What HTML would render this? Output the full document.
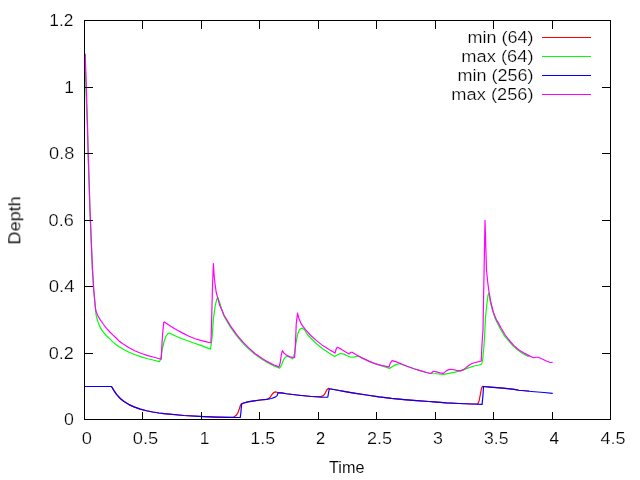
<!DOCTYPE html>
<html><head><meta charset="utf-8"><title>plot</title>
<style>
html,body{margin:0;padding:0;background:#fff;}
body{width:640px;height:480px;overflow:hidden;}
svg{display:block;}
text{font-family:"Liberation Sans",sans-serif;font-size:16.3px;fill:#000;}
.c{fill:none;stroke-width:1.2;stroke-linejoin:round;stroke-linecap:butt;}
</style></head><body>
<svg width="640" height="480" viewBox="0 0 640 480">
<rect x="0" y="0" width="640" height="480" fill="#fff"/>
<polyline class="c" stroke="#ff0000" points="84.50,386.50 111.50,386.50 114.00,390.60 116.50,394.40 120.25,398.50 124.00,401.50 129.00,404.60 134.00,406.90 140.25,409.10 146.50,410.75 152.75,412.00 159.00,413.00 164.00,413.60 184.00,415.50 204.00,416.60 216.50,417.10 229.00,417.40 233.40,417.25 235.90,415.60 237.75,413.10 239.40,408.75 240.50,405.00 241.50,403.50 242.10,403.50 247.75,401.90 254.00,400.90 260.25,400.00 266.50,399.40 267.75,399.00 270.25,397.25 272.10,394.40 273.75,392.50 275.25,391.90 277.10,392.25 279.00,392.90 281.50,392.90 286.50,393.75 299.00,395.25 311.50,396.50 320.90,396.60 323.40,395.60 325.25,393.10 326.75,390.00 328.40,388.40 329.60,388.75 336.50,390.00 345.25,391.60 354.00,393.10 366.50,395.00 379.00,396.90 391.50,398.40 404.00,399.60 416.50,400.60 429.00,401.50 434.00,401.90 446.50,402.90 459.00,403.50 471.50,404.00 477.75,403.75 479.00,401.25 480.25,395.00 481.50,388.10 482.50,386.25 483.50,386.50 490.25,387.10 502.75,388.10 514.00,389.40 519.00,390.25 529.00,391.00"/>
<polyline class="c" stroke="#00ff00" points="85.00,53.80 86.10,95.00 87.25,125.00 88.00,150.00 89.90,210.00 92.45,270.00 93.75,290.00 94.90,302.50 95.50,308.50 95.60,311.75 96.50,316.75 97.75,321.10 99.60,326.10 101.50,329.60 104.00,333.00 106.50,335.80 108.40,337.50 110.25,339.40 113.40,342.40 116.50,345.00 119.60,347.10 122.75,349.00 129.00,352.25 135.25,354.75 141.50,356.90 147.75,358.75 154.00,360.25 159.60,361.60 160.90,357.50 162.10,350.00 164.00,341.75 165.90,336.25 167.75,333.75 169.30,333.00 176.50,336.50 182.75,339.00 189.00,341.25 195.25,343.50 201.50,345.60 207.75,348.10 210.50,349.10 212.10,337.50 213.40,318.75 215.25,305.60 216.90,298.75 218.00,297.90 219.60,302.50 221.50,308.75 224.00,316.25 230.25,326.90 236.50,335.60 242.75,343.10 249.00,349.40 255.25,354.60 261.50,359.00 267.75,362.75 274.00,365.90 279.60,368.10 281.50,365.00 283.40,360.00 285.25,357.25 287.10,356.25 290.25,357.50 292.50,358.75 294.60,353.75 295.90,343.50 297.75,334.00 299.60,329.60 302.10,328.10 304.60,330.00 307.75,335.00 311.50,338.75 316.50,343.75 322.75,348.75 329.00,353.10 334.60,356.50 337.10,355.00 340.25,353.50 344.00,354.10 347.75,356.00 350.90,357.25 354.00,356.90 357.50,356.25 359.40,356.70 362.50,358.10 368.75,361.10 375.00,363.70 381.25,365.60 385.00,367.00 388.75,368.10 389.60,368.40 392.75,366.25 396.50,364.40 399.60,363.75 404.00,365.25 407.75,366.50 414.00,368.75 420.25,370.60 426.50,372.50 430.90,373.50 436.50,373.75 443.40,374.40 449.00,373.40 455.25,372.10 461.50,370.60 467.75,368.10 474.00,366.00 479.00,365.00 481.75,364.00 482.75,358.75 483.75,348.75 484.60,336.25 485.50,317.50 486.75,305.00 488.00,295.00 489.00,293.10 490.30,302.00 492.10,308.75 495.25,318.75 496.50,321.25 500.25,328.75 504.00,335.25 508.40,340.60 513.40,346.25 518.40,350.60 523.40,354.00 528.75,356.60"/>
<polyline class="c" stroke="#0000ff" points="84.50,386.50 111.50,386.50 114.00,390.60 116.50,394.40 120.25,398.50 124.00,401.50 129.00,404.60 134.00,406.90 140.25,409.10 146.50,410.75 152.75,412.00 159.00,413.00 164.00,413.60 184.00,415.50 204.00,416.60 216.50,417.10 229.00,417.40 240.25,417.50 240.90,412.50 241.50,405.00 242.10,403.50 247.75,401.90 254.00,400.90 260.25,400.00 266.50,399.40 271.50,398.50 275.25,397.10 277.10,395.60 278.00,392.90 281.50,392.90 286.50,393.75 299.00,395.25 311.50,396.50 321.50,397.25 327.75,397.25 328.60,392.50 329.25,388.75 336.50,390.00 345.25,391.60 354.00,393.10 366.50,395.00 379.00,396.90 391.50,398.40 404.00,399.60 416.50,400.60 429.00,401.50 434.00,401.90 446.50,402.90 459.00,403.50 471.50,404.00 482.10,404.40 483.00,395.00 483.50,386.50 490.25,387.10 502.75,388.10 514.00,389.40 519.00,390.25 531.50,391.50 544.00,392.50 552.75,393.40"/>
<polyline class="c" stroke="#ff00ff" points="85.20,53.80 86.60,95.00 87.50,125.00 88.10,150.00 90.00,210.00 92.50,270.00 93.75,290.00 94.90,302.50 95.50,308.50 95.80,310.30 96.30,311.90 97.75,315.50 100.25,319.90 103.40,324.25 106.50,328.30 109.60,331.75 112.75,334.90 115.60,337.50 119.00,340.90 122.75,343.75 129.00,347.75 135.25,351.00 141.50,353.50 147.75,355.60 154.00,357.25 160.25,359.00 161.25,359.10 161.90,345.00 162.75,332.50 163.75,322.50 164.40,321.90 170.25,325.90 176.50,329.75 182.75,333.10 189.00,336.25 195.25,338.75 201.50,340.60 207.75,342.10 210.90,342.75 211.50,325.00 212.50,286.25 213.40,263.50 214.00,273.75 215.00,283.75 216.25,292.50 217.75,298.10 219.60,305.00 222.10,310.60 224.00,315.00 230.25,325.60 236.50,334.40 242.75,341.90 249.00,348.10 255.25,353.75 261.50,358.10 267.75,361.90 274.00,365.00 279.00,366.90 280.25,362.50 281.25,355.00 282.40,350.60 284.00,353.10 286.50,355.25 290.25,356.90 293.75,357.75 294.60,357.50 295.50,342.50 296.25,323.75 297.50,313.10 299.00,318.75 301.50,324.40 305.25,329.40 310.25,335.00 316.50,340.60 322.75,345.60 329.00,349.40 335.00,353.10 336.25,348.75 337.50,347.25 341.50,349.40 346.50,352.50 349.00,354.00 350.90,352.25 352.10,352.25 356.25,354.80 362.50,358.10 368.75,361.10 375.00,363.60 381.25,365.40 387.50,366.70 389.00,367.10 390.25,363.10 392.10,360.60 396.50,361.90 401.50,364.00 407.75,366.50 414.00,368.75 420.25,370.60 426.50,372.50 430.90,373.50 433.40,371.25 436.50,371.90 440.25,372.90 443.40,373.40 446.50,370.60 449.60,369.40 452.75,369.50 456.50,370.40 460.25,370.90 464.00,369.40 467.75,366.25 471.50,363.75 475.25,362.50 479.00,361.60 481.25,361.00 481.75,348.75 482.50,336.25 483.00,330.00 484.00,275.00 485.00,220.25 486.50,270.00 487.75,282.50 489.00,291.90 490.90,302.50 493.40,312.50 496.50,320.00 497.75,321.90 501.50,328.75 505.25,335.00 509.00,340.00 514.00,345.60 519.00,350.00 524.00,353.10 529.00,355.60 533.40,357.75 535.90,357.25 538.40,357.25 541.50,358.75 546.50,361.00 550.25,362.50 552.75,362.25"/>
<path fill="#000" fill-rule="evenodd" shape-rendering="crispEdges" d="M142,412h1v7h-1zM142,21h1v8h-1zM201,412h1v7h-1zM201,21h1v8h-1zM259,412h1v7h-1zM259,21h1v8h-1zM318,412h1v7h-1zM318,21h1v8h-1zM376,412h1v7h-1zM376,21h1v8h-1zM435,412h1v7h-1zM435,21h1v8h-1zM493,412h1v7h-1zM493,21h1v8h-1zM552,412h1v7h-1zM552,21h1v8h-1zM85,353h8v1h-8zM602,353h8v1h-8zM85,286h8v1h-8zM602,286h8v1h-8zM85,220h8v1h-8zM602,220h8v1h-8zM85,153h8v1h-8zM602,153h8v1h-8zM85,87h8v1h-8zM602,87h8v1h-8zM84,20h527v400h-527zM85,21v398h525v-398z"/>
<g opacity="0.99" stroke="#fff" stroke-width="0.22">
<text transform="translate(81.78,444) scale(1.1230,1)">0</text>
<text transform="translate(132.78,444) scale(1.1248,1)">0.5</text>
<text transform="translate(199.67,444) scale(1.0672,1)">1</text>
<text transform="translate(250.34,444) scale(1.0949,1)">1.5</text>
<text transform="translate(316.07,444) scale(1.0100,1)" stroke-width="0.08">2</text>
<text transform="translate(366.89,444) scale(1.1085,1)">2.5</text>
<text transform="translate(433.07,444) scale(1.0934,1)">3</text>
<text transform="translate(484.03,444) scale(1.0818,1)">3.5</text>
<text transform="translate(549.61,444) scale(1.0470,1)" stroke-width="0.08">4</text>
<text transform="translate(600.39,444) scale(1.1088,1)">4.5</text>
<text transform="translate(49.28,26.0) scale(1.0632,1)">1.2</text>
<text transform="translate(64.27,93.0) scale(1.0672,1)">1</text>
<text transform="translate(49.04,159.0) scale(1.1143,1)">0.8</text>
<text transform="translate(48.59,226.0) scale(1.1124,1)">0.6</text>
<text transform="translate(48.67,292.0) scale(1.1418,1)">0.4</text>
<text transform="translate(48.69,359.0) scale(1.1083,1)">0.2</text>
<text transform="translate(64.06,425.0) scale(1.0909,1)">0</text>
<text transform="translate(329.04,473) scale(0.9963,1)" stroke-width="0.08">Time</text>
<text transform="translate(20.3,244.48) rotate(-90) scale(1.1071,1)" stroke-width="0.12">Depth</text>
<text transform="translate(467.55,43.0) scale(1.1051,1)">min (64)</text>
<text transform="translate(461.28,62.0) scale(1.1251,1)">max (64)</text>
<text transform="translate(457.55,81.0) scale(1.1048,1)">min (256)</text>
<text transform="translate(451.29,100.0) scale(1.1223,1)">max (256)</text>
</g>
<path d="M542,37.5H591" stroke="#ff0000" stroke-width="1" shape-rendering="crispEdges"/>
<path d="M542,56.5H591" stroke="#00ff00" stroke-width="1" shape-rendering="crispEdges"/>
<path d="M542,75.5H591" stroke="#0000ff" stroke-width="1" shape-rendering="crispEdges"/>
<path d="M542,94.5H591" stroke="#ff00ff" stroke-width="1" shape-rendering="crispEdges"/>
</svg>
</body></html>
